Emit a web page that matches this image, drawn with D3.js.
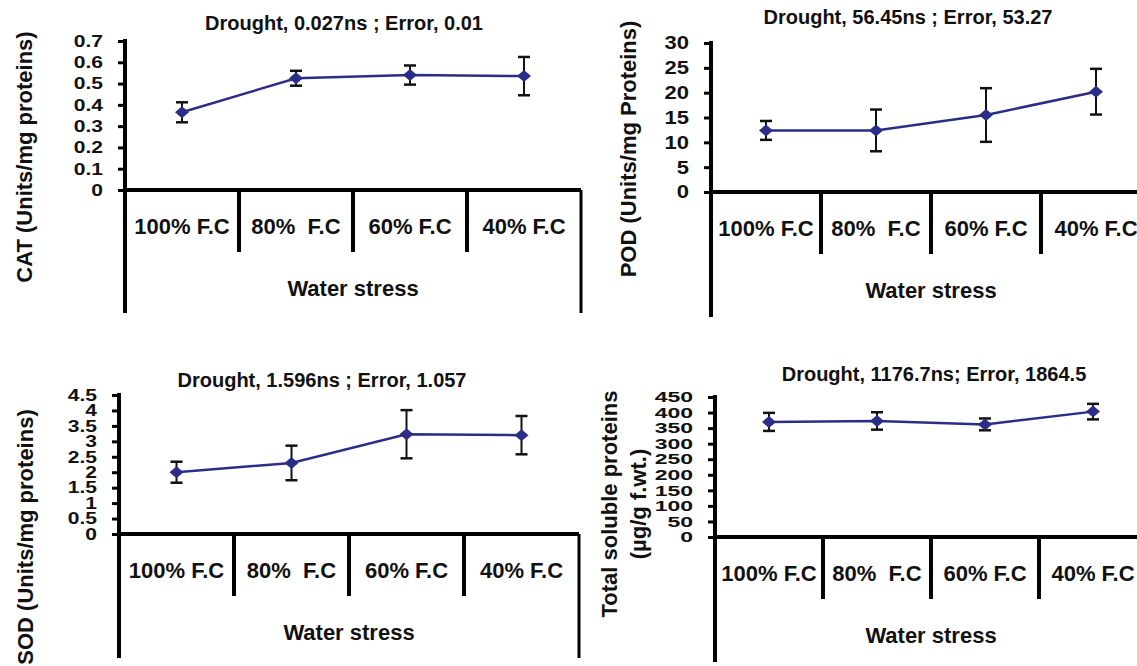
<!DOCTYPE html>
<html>
<head>
<meta charset="utf-8">
<script src="https://cdn.jsdelivr.net/npm/d3@7"></script>
<style>
  body { margin: 0; background: #fff; }
  text { font-family: "Liberation Sans", Arial, sans-serif; font-weight: bold; fill: #111; }
</style>
</head>
<body>
<svg id="chart" width="1137" height="666"></svg>
<script>
// water stress levels (x categories)
let levels = ["100% F.C", "80%  F.C", "60% F.C", "40% F.C"];

// CAT
let catMeans = [0.365, 0.525, 0.54, 0.535];
let catErrs = [0.047, 0.035, 0.045, 0.09];
let catTicks = [0, 0.1, 0.2, 0.3, 0.4, 0.5, 0.6, 0.7];

// POD
let podMeans = [12.4, 12.4, 15.5, 20.2];
let podErrs = [1.9, 4.2, 5.4, 4.6];
let podTicks = [0, 5, 10, 15, 20, 25, 30];

// SOD
let sodMeans = [2.0, 2.3, 3.23, 3.2];
let sodErrs = [0.34, 0.56, 0.78, 0.62];
let sodTicks = [0, 0.5, 1, 1.5, 2, 2.5, 3, 3.5, 4, 4.5];

// Total soluble proteins
let tspMeans = [370, 373, 362, 403];
let tspErrs = [29, 28, 19, 25];
let tspTicks = [0, 50, 100, 150, 200, 250, 300, 350, 400, 450];

let titles = [
  "Drought, 0.027ns ; Error, 0.01",
  "Drought, 56.45ns ; Error, 53.27",
  "Drought, 1.596ns ; Error, 1.057",
  "Drought, 1176.7ns; Error, 1864.5"
];

let yLabels = [
  ["CAT (Units/mg proteins)"],
  ["POD (Units/mg Proteins)"],
  ["SOD (Units/mg proteins)"],
  ["Total soluble proteins", "(\u00b5g/g f.wt.)"]
];

let lineColor = "#2b2d86";

let svg = d3.select("#chart");
svg.append("rect").attr("width", 1137).attr("height", 666).attr("fill", "#fff");

// layout of each panel
let panels = [
  { means: catMeans, errs: catErrs, ticks: catTicks, title: titles[0], ylab: yLabels[0],
    left: 125, band: 114, y0: 190, yTop: 41, bottom: 313, tickFont: 21, sy: 0.8,
    titleX: 344, titleY: 30, labX: [32], labY: 157, fmt: d3.format("") },
  { means: podMeans, errs: podErrs, ticks: podTicks, title: titles[1], ylab: yLabels[1],
    left: 711, band: 110, y0: 192, yTop: 43, bottom: 317, tickFont: 22, sy: 0.83,
    titleX: 908, titleY: 24, labX: [636], labY: 149, fmt: d3.format("") },
  { means: sodMeans, errs: sodErrs, ticks: sodTicks, title: titles[2], ylab: yLabels[2],
    left: 119, band: 115, y0: 534, yTop: 395, bottom: 658, tickFont: 21, sy: 0.78,
    titleX: 322, titleY: 387, labX: [33], labY: 537, fmt: d3.format("") },
  { means: tspMeans, errs: tspErrs, ticks: tspTicks, title: titles[3], ylab: yLabels[3],
    left: 715, band: 108, y0: 537, yTop: 397, bottom: 662, tickFont: 23, sy: 0.64,
    titleX: 934, titleY: 381, labX: [617, 646], labY: 504, fmt: d3.format("") }
];

panels.forEach(drawPanel);

function drawPanel(p) {
  let x = d3.scaleBand().domain(levels).range([p.left, p.left + 4 * p.band]);
  let maxT = p.ticks[p.ticks.length - 1];
  let y = d3.scaleLinear().domain([0, maxT]).range([p.y0, p.yTop]);
  let g = svg.append("g");

  // y axis ticks + labels
  let ga = g.append("g")
      .attr("transform", "translate(" + p.left + ",0)")
      .call(d3.axisLeft(y).tickValues(p.ticks).tickSize(7).tickPadding(15).tickFormat(p.fmt));
  ga.select(".domain").remove();
  ga.selectAll(".tick line").attr("stroke", "#000").attr("stroke-width", 3);
  ga.selectAll(".tick text")
      .attr("fill", "#111")
      .attr("font-family", null)
      .attr("font-size", null)
      .style("font-size", p.tickFont + "px")
      .attr("transform", "scale(1," + p.sy + ")");

  // y axis line runs down through the category table
  g.append("line")
      .attr("x1", p.left).attr("x2", p.left)
      .attr("y1", y(maxT) - 2).attr("y2", p.bottom)
      .attr("stroke", "#000").attr("stroke-width", 4);

  // x axis line
  g.append("line")
      .attr("x1", p.left).attr("x2", x.range()[1])
      .attr("y1", p.y0).attr("y2", p.y0)
      .attr("stroke", "#000").attr("stroke-width", 4);

  // category dividers
  g.selectAll(".divider")
      .data(levels.slice(1))
      .enter().append("line")
      .attr("x1", d => x(d)).attr("x2", d => x(d))
      .attr("y1", p.y0).attr("y2", p.y0 + 62)
      .attr("stroke", "#000").attr("stroke-width", 4);

  // right border of the table
  g.append("line")
      .attr("x1", x.range()[1]).attr("x2", x.range()[1])
      .attr("y1", p.y0).attr("y2", p.bottom)
      .attr("stroke", "#000").attr("stroke-width", 3);

  // category labels
  g.selectAll(".cat")
      .data(levels)
      .enter().append("text")
      .attr("x", d => x(d) + x.bandwidth() / 2)
      .attr("y", p.y0 + 44)
      .attr("text-anchor", "middle")
      .style("font-size", "22px")
      .style("white-space", "pre")
      .text(d => d);

  // axis title
  g.append("text")
      .attr("x", (x.range()[0] + x.range()[1]) / 2)
      .attr("y", p.y0 + 106)
      .attr("text-anchor", "middle")
      .style("font-size", "22px")
      .text("Water stress");

  // panel title
  g.append("text")
      .attr("x", p.titleX).attr("y", p.titleY)
      .attr("text-anchor", "middle")
      .style("font-size", "20px")
      .text(p.title);

  // y label
  p.ylab.forEach(function(t, i) {
    g.append("text")
        .attr("transform", "translate(" + p.labX[i] + "," + p.labY + ") rotate(-90)")
        .attr("text-anchor", "middle")
        .style("font-size", "22px")
        .text(t);
  });

  let pts = levels.map(function(c, i) {
    return { c: c, v: p.means[i], e: p.errs[i] };
  });
  let cx = d => x(d.c) + x.bandwidth() / 2;

  // series line
  g.append("path")
      .datum(pts)
      .attr("fill", "none")
      .attr("stroke", lineColor)
      .attr("stroke-width", 2.5)
      .attr("d", d3.line().x(cx).y(d => y(d.v)));

  // error bars
  let eb = g.selectAll(".err").data(pts).enter().append("g");
  eb.append("line")
      .attr("x1", cx).attr("x2", cx)
      .attr("y1", d => y(d.v + d.e)).attr("y2", d => y(d.v - d.e))
      .attr("stroke", "#111").attr("stroke-width", 2);
  [1, -1].forEach(function(s) {
    eb.append("line")
        .attr("x1", d => cx(d) - 6).attr("x2", d => cx(d) + 6)
        .attr("y1", d => y(d.v + s * d.e)).attr("y2", d => y(d.v + s * d.e))
        .attr("stroke", "#111").attr("stroke-width", 2.5);
  });

  // diamond markers
  g.selectAll(".mk")
      .data(pts)
      .enter().append("path")
      .attr("fill", lineColor)
      .attr("d", function(d) {
        let a = cx(d), b = y(d.v);
        return "M" + a + "," + (b - 6) + "L" + (a + 7) + "," + b + "L" + a + "," + (b + 6) + "L" + (a - 7) + "," + b + "Z";
      });
}
</script>
</body>
</html>
